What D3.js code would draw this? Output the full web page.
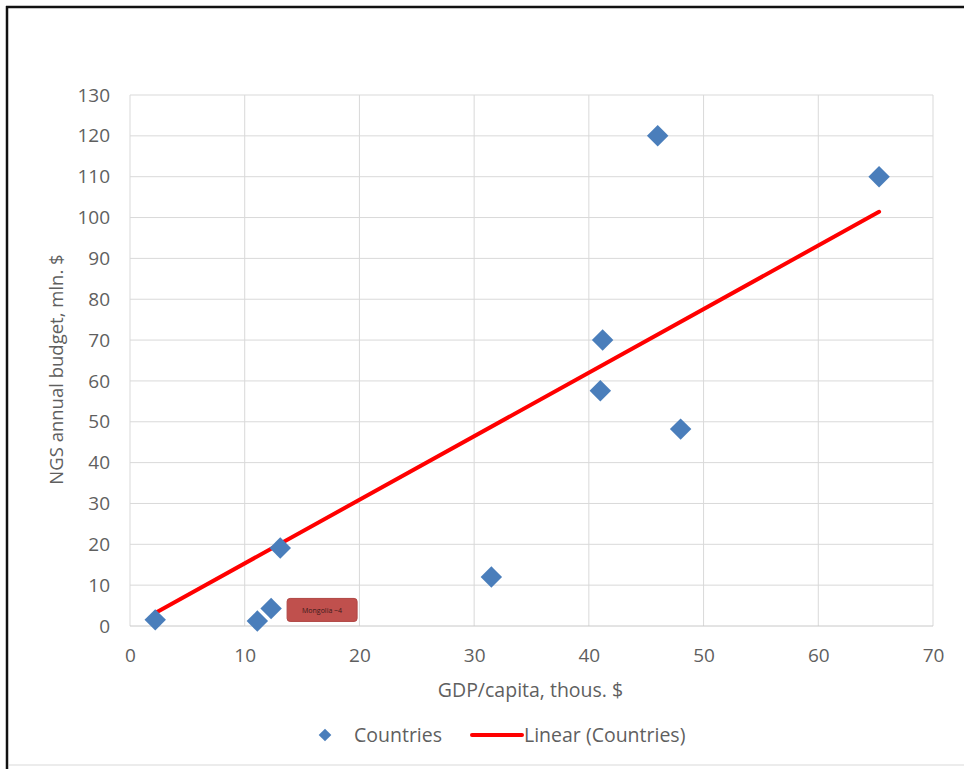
<!DOCTYPE html>
<html>
<head>
<meta charset="utf-8">
<script src="https://cdn.jsdelivr.net/npm/d3@7"></script>
<style>
  body { margin: 0; background: #fff; }
  text { font-family: "Open Sans", "Liberation Sans", sans-serif; }
</style>
</head>
<body>
<div id="chart"></div>
<script>
// GDP per capita (thous. $) vs NGS annual budget (mln. $)
var gdp    = [2.2, 11.1, 12.3, 13.1, 31.5, 41.0, 41.2, 48.0, 46.0, 65.3];
var budget = [1.5, 1.2, 4.3, 19.1, 12.0, 57.6, 70.0, 48.2, 120.0, 110.0];
// linear trendline ends
var trend_x = [2.2, 65.3];
var trend_y = [3.2, 101.4];
var x_ticks = [0, 10, 20, 30, 40, 50, 60, 70];
var y_ticks = [0, 10, 20, 30, 40, 50, 60, 70, 80, 90, 100, 110, 120, 130];
var note = {x: 12.3, y: 4.3, label: "Mongolia ~4"};

var W = 964, H = 769;
var margin = {top: 95, right: 31, bottom: 143, left: 130};
var txt = "#5f5f5f";

var svg = d3.select("#chart").append("svg")
            .attr("width", W).attr("height", H);

// outer frame (left + top dark edge, rest faint)
svg.append("rect").attr("x", 0).attr("y", 0).attr("width", W).attr("height", H).attr("fill", "#fff");
svg.append("line").attr("x1", 7).attr("y1", 6).attr("x2", 7).attr("y2", H).attr("stroke", "#111").attr("stroke-width", 2.5);
svg.append("line").attr("x1", 6).attr("y1", 7).attr("x2", W).attr("y2", 7).attr("stroke", "#111").attr("stroke-width", 2.5);
svg.append("line").attr("x1", 9).attr("y1", 765).attr("x2", W).attr("y2", 765).attr("stroke", "#ececec").attr("stroke-width", 2);

var x = d3.scaleLinear().domain([0, 70]).range([margin.left, W - margin.right]);
var y = d3.scaleLinear().domain([0, 130]).range([H - margin.bottom, margin.top]);

var g = svg.append("g");

// gridlines
g.selectAll(".vgrid").data(x_ticks).enter().append("line")
 .attr("x1", d => x(d)).attr("x2", d => x(d))
 .attr("y1", y(0)).attr("y2", y(130))
 .attr("stroke", "#d9d9d9").attr("stroke-width", 1);
g.selectAll(".hgrid").data(y_ticks).enter().append("line")
 .attr("x1", x(0)).attr("x2", x(70))
 .attr("y1", d => y(d)).attr("y2", d => y(d))
 .attr("stroke", d => d === 0 ? "#c8c8c8" : "#d9d9d9").attr("stroke-width", 1);

// axes via d3 with domain/ticks hidden
svg.append("g").attr("transform", `translate(0, ${y(0)})`)
   .call(d3.axisBottom(x).tickValues(x_ticks).tickSize(0).tickPadding(23));
svg.append("g").attr("transform", `translate(${x(0)}, 0)`)
   .call(d3.axisLeft(y).tickValues(y_ticks).tickSize(0).tickPadding(20));
svg.selectAll(".domain").remove();
svg.selectAll(".tick text").attr("fill", txt).style("font-size", "19px")
   .style("font-family", "'Open Sans', 'Liberation Sans', sans-serif");

// axis titles
svg.append("text").attr("x", (x(0) + x(70)) / 2 - 1).attr("y", 697)
   .attr("text-anchor", "middle").attr("fill", txt).style("font-size", "19.5px")
   .text("GDP/capita, thous. $");
svg.append("text").attr("transform", `translate(63, ${(y(0) + y(130)) / 2 + 9}) rotate(-90)`)
   .attr("text-anchor", "middle").attr("fill", txt).style("font-size", "18.5px")
   .text("NGS annual budget, mln. $");

// trendline
var trend = trend_x.map((d, i) => [d, trend_y[i]]);
g.append("path").datum(trend)
 .attr("d", d3.line().x(d => x(d[0])).y(d => y(d[1])))
 .attr("stroke", "#ff0000").attr("stroke-width", 4).attr("fill", "none")
 .attr("stroke-linecap", "round");

// points
var diamond = d3.symbol().type(d3.symbolSquare).size(230);
g.selectAll(".pt").data(gdp).enter().append("path")
 .attr("d", diamond)
 .attr("transform", (d, i) => `translate(${x(d)}, ${y(budget[i])}) rotate(45)`)
 .attr("fill", "#4a7ebb");

// annotation
var nx = x(note.x) + 16, ny = y(note.y) - 10;
g.append("rect").attr("x", nx).attr("y", ny).attr("width", 70).attr("height", 23)
 .attr("rx", 3).attr("fill", "#c0504d").attr("stroke", "#b04543");
g.append("text").attr("x", nx + 35).attr("y", ny + 14.5).attr("text-anchor", "middle")
 .style("font-size", "7px").attr("fill", "#3a1a1a").text(note.label);

// legend
var leg = svg.append("g").attr("transform", "translate(0, 735)");
leg.append("path").attr("d", d3.symbol().type(d3.symbolSquare).size(80))
   .attr("transform", "translate(325, 0) rotate(45)").attr("fill", "#4a7ebb");
leg.append("text").attr("x", 354).attr("y", 7).attr("fill", txt).style("font-size", "19.5px").text("Countries");
leg.append("line").attr("x1", 472).attr("x2", 522).attr("y1", 0).attr("y2", 0)
   .attr("stroke", "#ff0000").attr("stroke-width", 4).attr("stroke-linecap", "round");
leg.append("text").attr("x", 524).attr("y", 7).attr("fill", txt).style("font-size", "19.5px").text("Linear (Countries)");
</script>
</body>
</html>
